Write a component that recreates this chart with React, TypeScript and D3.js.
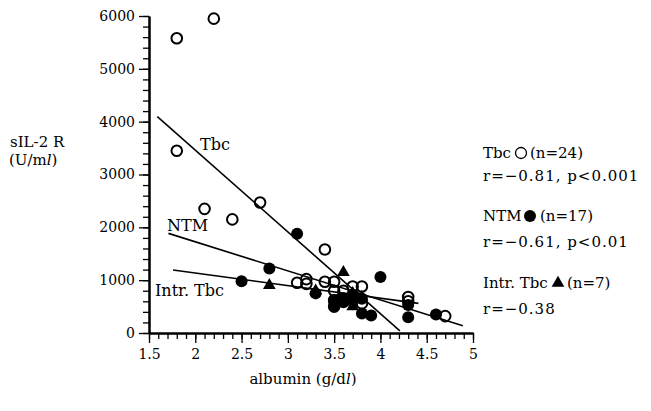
import React, { useEffect, useRef } from "react";
import * as d3 from "d3";

// albumin (g/dl) vs sIL-2R (U/ml)
const tbcAlb = [1.8, 2.2, 1.8, 2.1, 2.4, 2.7, 3.4, 3.1, 3.2, 3.2, 3.4, 3.5, 3.5, 3.5, 3.5, 3.6, 3.7, 3.8, 3.8, 3.7, 4.3, 4.3, 4.7, 3.6];
const tbcSil = [5580, 5950, 3450, 2350, 2150, 2470, 1580, 950, 1020, 930, 970, 970, 800, 500, 620, 650, 880, 880, 560, 720, 680, 600, 320, 800];

const ntmAlb = [3.1, 2.8, 2.5, 4.0, 3.3, 3.8, 3.9, 4.3, 4.6, 4.3, 3.5, 3.5, 3.6, 3.6, 3.7, 3.7, 3.8];
const ntmSil = [1880, 1220, 980, 1060, 750, 370, 330, 300, 350, 530, 620, 520, 580, 650, 720, 600, 650];

const intrAlb = [3.6, 2.8, 3.3, 3.7, 3.8, 3.7, 3.6];
const intrSil = [1150, 900, 800, 750, 680, 500, 600];

// regression lines: y = a + b * x, drawn from x0 to x1
const fitNames = ["Tbc", "NTM", "Intr. Tbc"];
const fitA = [6557, 2826, 1613];
const fitB = [-1548, -550, -238.5];
const fitX0 = [1.59, 1.71, 1.76];
const fitX1 = [4.21, 4.89, 4.41];

const xTicks = [1.5, 2, 2.5, 3, 3.5, 4, 4.5, 5];
const yTicks = [0, 1000, 2000, 3000, 4000, 5000, 6000];

const width = 651;
const height = 411;
const font = "'DejaVu Serif', serif";

const Axes = ({ x, y }) => {
  const xRef = useRef(null);
  const yRef = useRef(null);

  useEffect(() => {
    const xg = d3.select(xRef.current);
    xg.selectAll("*").remove();
    xg.append("g").call(
      d3.axisBottom(x).tickValues(d3.range(15, 51).map(d => d / 10)).tickSize(6).tickSizeOuter(0).tickFormat(() => "")
    );
    xg.append("g").call(
      d3.axisBottom(x).tickValues(xTicks).tickSize(10).tickSizeOuter(0).tickPadding(6).tickFormat(d => String(d))
    );
    xg.selectAll("path").attr("stroke-width", 2);
    xg.selectAll("line").attr("stroke-width", 1.3);
    xg.selectAll("g").attr("font-family", null).attr("font-size", null);
    xg.selectAll("text").attr("font-size", 14).attr("fill", "#000");

    const yg = d3.select(yRef.current);
    yg.selectAll("*").remove();
    yg.append("g").call(
      d3.axisLeft(y).tickValues(d3.range(0, 6001, 200)).tickSize(6).tickSizeOuter(0).tickFormat(() => "")
    );
    yg.append("g").call(
      d3.axisLeft(y).tickValues(yTicks).tickSize(10).tickSizeOuter(0).tickPadding(4).tickFormat(d => String(d))
    );
    yg.selectAll("path").attr("stroke-width", 2);
    yg.selectAll("line").attr("stroke-width", 1.3);
    yg.selectAll("g").attr("font-family", null).attr("font-size", null);
    yg.selectAll("text").attr("font-size", 14).attr("fill", "#000");
  });

  return (
    <>
      <g ref={xRef} transform={`translate(0, ${y(0)})`} />
      <g ref={yRef} transform={`translate(${x(1.5)}, 0)`} />
    </>
  );
};

const App = () => {
  const x = d3.scaleLinear().domain([1.5, 5]).range([149, 473]);
  const y = d3.scaleLinear().domain([0, 6000]).range([333, 16]);
  const line = d3.line().x(d => x(d[0])).y(d => y(d[1]));
  const tri = d3.symbol().type(d3.symbolTriangle).size(70);

  return (
    <svg
      width={width}
      height={height}
      style={{ position: "absolute", left: 0, top: 0, background: "#fff" }}
      fontFamily={font}
    >
      <rect width={width} height={height} fill="#fff" />
      <Axes x={x} y={y} />

      {fitNames.map((n, i) => (
        <path
          key={n}
          d={line([
            [fitX0[i], fitA[i] + fitB[i] * fitX0[i]],
            [fitX1[i], fitA[i] + fitB[i] * fitX1[i]],
          ])}
          stroke="#000"
          strokeWidth={1.6}
          fill="none"
        />
      ))}

      {tbcAlb.map((a, i) => (
        <circle key={"t" + i} cx={x(a)} cy={y(tbcSil[i])} r={5.3} fill="none" stroke="#000" strokeWidth={2} />
      ))}
      {ntmAlb.map((a, i) => (
        <circle key={"n" + i} cx={x(a)} cy={y(ntmSil[i])} r={6} fill="#000" />
      ))}
      {intrAlb.map((a, i) => (
        <path key={"i" + i} d={tri()} transform={`translate(${x(a)}, ${y(intrSil[i])})`} fill="#000" />
      ))}

      {/* line labels */}
      <text x={200} y={150} fontSize={16}>Tbc</text>
      <text x={167} y={231} fontSize={16}>NTM</text>
      <text x={155} y={296} fontSize={16}>Intr. Tbc</text>

      {/* y label */}
      <text x={10} y={147} fontSize={15}>sIL-2 R</text>
      <text x={9} y={165} fontSize={15}>(U/m<tspan fontStyle="italic">l</tspan>)</text>

      {/* x label */}
      <text x={303} y={384} fontSize={15} textAnchor="middle">
        albumin (g/d<tspan fontStyle="italic">l</tspan>)
      </text>

      {/* legend */}
      <text x={483} y={158} fontSize={15}>Tbc</text>
      <circle cx={521} cy={153} r={5.5} fill="none" stroke="#000" strokeWidth={1.3} />
      <text x={530} y={158} fontSize={15}>(n=24)</text>
      <text x={483} y={181} fontSize={15} letterSpacing={1}>r=−0.81,  p&lt;0.001</text>

      <text x={483} y={221} fontSize={15}>NTM</text>
      <circle cx={530} cy={216} r={6} fill="#000" />
      <text x={540} y={221} fontSize={15}>(n=17)</text>
      <text x={483} y={247} fontSize={15} letterSpacing={1}>r=−0.61,  p&lt;0.01</text>

      <text x={483} y={288} fontSize={15}>Intr. Tbc</text>
      <path d={d3.symbol().type(d3.symbolTriangle).size(70)()} transform="translate(558, 283)" fill="#000" />
      <text x={567} y={288} fontSize={15}>(n=7)</text>
      <text x={483} y={314} fontSize={15} letterSpacing={1}>r=−0.38</text>
    </svg>
  );
};

export default App;
